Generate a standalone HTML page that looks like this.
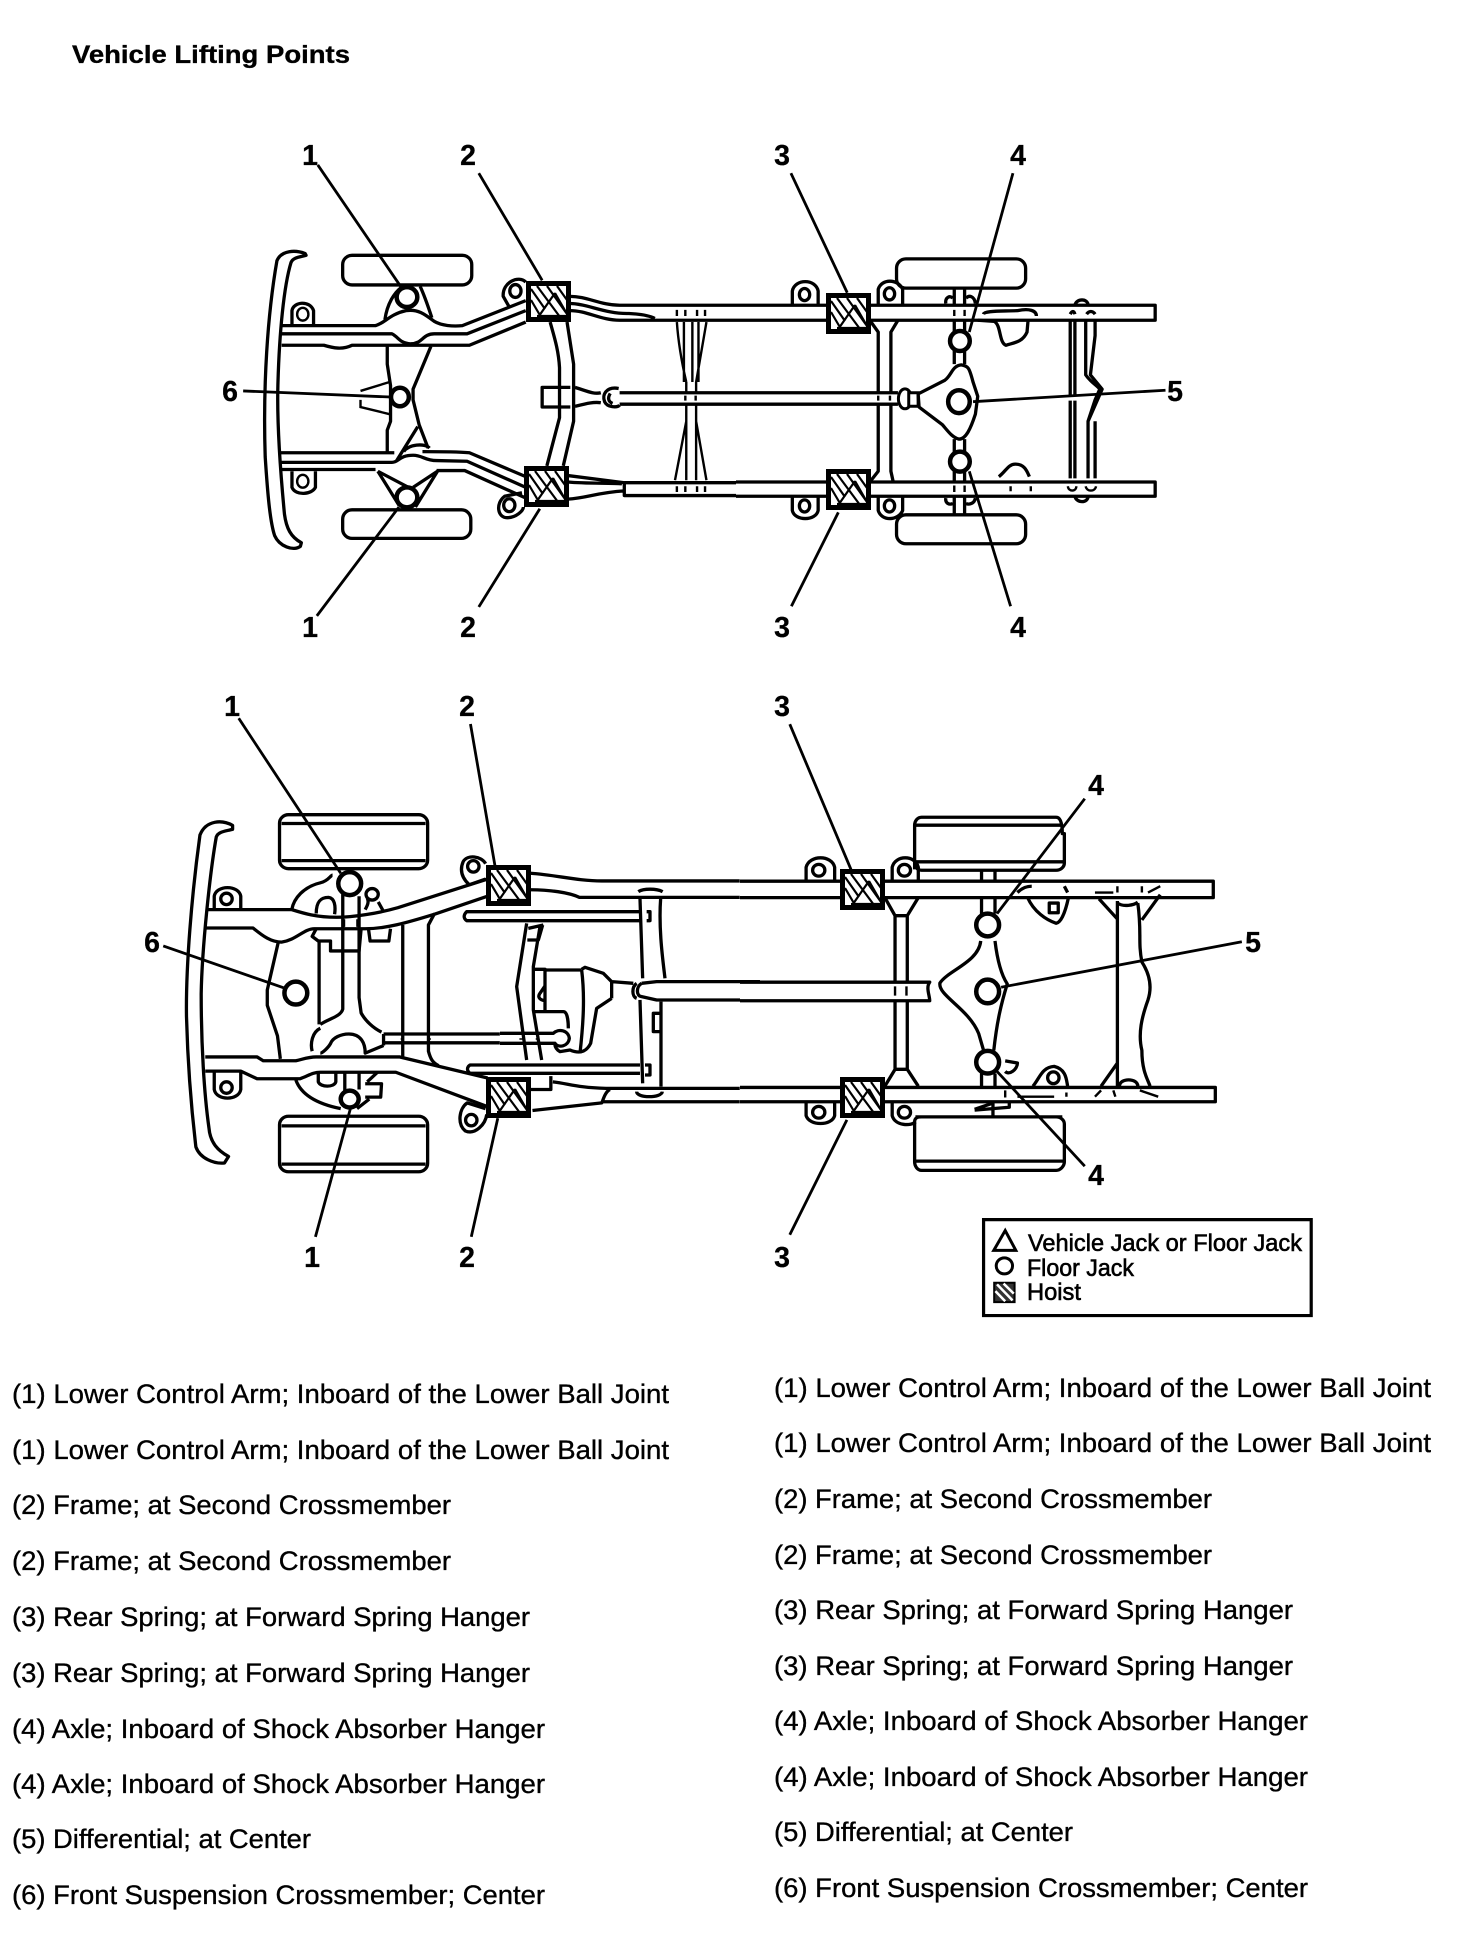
<!DOCTYPE html>
<html><head><meta charset="utf-8"><style>
html,body{margin:0;padding:0;background:#fff}
svg{display:block}
path,ellipse,rect,line,polygon{vector-effect:non-scaling-stroke}
.s{fill:none;stroke:#000;stroke-width:3.3;stroke-linejoin:round}
.t{fill:none;stroke:#000;stroke-width:2.4}
.l{fill:none;stroke:#000;stroke-width:2.8}
.c{fill:#fff;stroke:#000;stroke-width:4.5}
.c2{fill:#fff;stroke:#000;stroke-width:3}
.w{fill:#fff;stroke:none}
text{font-family:"Liberation Sans",Arial,sans-serif;fill:#000}
.n{font-size:28.5px;font-weight:bold;text-anchor:middle;stroke:#000;stroke-width:.3px}
.x{font-size:27px;stroke:#000;stroke-width:.35px}
.g{font-size:24px;stroke:#000;stroke-width:.6px}
</style></head><body>
<svg xmlns="http://www.w3.org/2000/svg" width="1472" height="1936" viewBox="0 0 1472 1936">
<defs>
<g id="h"><rect x="2.5" y="2.5" width="40" height="36" fill="#fff" stroke="#000" stroke-width="5" style="vector-effect:none"/>
<path d="M5,8L19,28M5,19L15,36M11,5L34,36M21,5L41,33M31,5L41,19M29,12L13,35M29,12L41,33M11,35H40" fill="none" stroke="#000" stroke-width="2.2" style="vector-effect:none"/></g>
</defs>
<rect width="1472" height="1936" fill="#fff"/>
<text x="72" y="63" font-size="25px" font-weight="bold" stroke="#000" stroke-width=".35" textLength="278" lengthAdjust="spacingAndGlyphs">Vehicle Lifting Points</text>

<!-- TOP DIAGRAM, FRONT -->
<g transform="translate(0,100) scale(.4694,.357)">
<path class="s" d="M650,430C630,420 600,420 590,450C570,600 560,800 565,1000C570,1100 575,1180 585,1220C595,1250 625,1265 640,1250L642,1240C620,1225 610,1200 606,1160C598,1050 590,900 592,800C595,650 605,520 620,455C625,440 640,440 652,435Z"/>
<rect class="s" x="730" y="435" width="275" height="83" rx="20" ry="26"/>
<rect class="s" x="730" y="1148" width="273" height="80" rx="20" ry="26"/>
<path class="s" d="M622,630V590C625,565 660,560 668,590V630M622,1040V1085C630,1110 665,1105 672,1085V1040"/>
<ellipse class="t" cx="645" cy="600" rx="12" ry="18"/><ellipse class="t" cx="645" cy="1068" rx="12" ry="18"/>
<path class="s" d="M1085,580L1072,550C1070,510 1105,490 1120,510"/><ellipse class="s" cx="1098" cy="535" rx="12" ry="18"/>
<path class="s" d="M1112,1100L1075,1110C1055,1130 1060,1170 1080,1170C1100,1170 1115,1150 1115,1140"/><ellipse class="s" cx="1085" cy="1135" rx="12" ry="18"/>
<path class="s" d="M600,632H800C820,625 830,600 865,590C890,585 905,600 925,620C940,632 965,635 985,632L1120,562"/>
<path class="s" d="M600,655H835C850,665 850,680 875,683C900,683 900,655 925,655H995L1120,590"/>
<path class="s" d="M600,687H690C710,695 730,700 750,687H1000L1120,622"/>
<path class="s" d="M820,615C825,570 840,540 855,525M895,522C905,550 915,590 920,610"/>
<path class="s" d="M825,690V740L832,800V900L825,925V988M918,690L880,810V840L893,910L912,975M845,1010L890,915M860,985C870,965 905,960 915,975"/>
<path class="t" d="M768,815L830,790M768,840V860L830,880"/>
<path class="s" d="M598,988H840M900,985C930,985 970,985 1000,988L1120,1055M598,1015H835C850,1015 850,995 880,995C900,995 905,1010 930,1010L995,1012L1120,1085M598,1035H800M930,1038H990L1120,1115"/>
<path class="s" d="M805,1040L850,1135M805,1040L870,1085M932,1040L885,1140M932,1040L880,1085"/>
<path class="s" d="M1172,622C1180,660 1190,700 1192,750V890L1165,1025M1208,622L1222,740V900L1200,1025"/>
<path class="s" d="M1215,805H1155V860H1215M1225,805C1250,815 1265,825 1280,820M1225,858C1250,850 1265,845 1280,848"/>
<path class="s" d="M1318,808C1292,802 1282,825 1288,845C1294,862 1315,862 1320,855M1300,822C1294,835 1296,845 1305,850"/>
<path class="s" d="M1320,820H1568M1320,852H1568"/>
<path class="s" d="M1215,550C1250,550 1280,575 1320,575H1568M1215,570C1250,570 1290,600 1340,598C1370,600 1385,605 1395,612M1215,590C1250,590 1280,617 1320,617H1568"/>
<path class="s" d="M1210,1052L1330,1072H1568M1330,1072V1108H1568M1210,1070C1250,1075 1300,1072 1325,1075M1210,1118C1250,1115 1270,1100 1330,1095"/>
<path class="t" d="M1442,622C1445,680 1455,750 1462,790M1457,622V790M1475,622V790M1505,622L1483,790M1488,622V790M1462,790V820M1483,790V820M1462,852V1065M1483,852V1065M1462,900L1438,1065M1483,900L1505,1065"/>
<path class="t" d="M1442,588V605M1460,588V605M1485,588V605M1502,588V605M1442,1082V1098M1460,1082V1098M1485,1082V1098M1502,1082V1098M1460,828V842M1482,828V842"/>
<ellipse class="c" cx="867" cy="552" rx="22" ry="28"/>
<ellipse class="c" cx="867" cy="1113" rx="22" ry="28"/>
<ellipse class="c" cx="852" cy="832" rx="19" ry="26"/>
<path class="l" d="M677,182L855,525M1020,205L1155,505M675,1445L850,1140M1020,1420L1150,1145M518,815L832,832"/>
</g>

<!-- TOP DIAGRAM, REAR -->
<g transform="translate(736,100) scale(.4694,.357)">
<path class="s" d="M120,572V535C125,500 170,500 175,535V572M303,572V530C310,500 345,500 355,530V572M120,1112V1150C125,1180 170,1180 175,1150V1112M303,1112V1150C310,1180 345,1180 355,1150V1112"/>
<ellipse class="s" cx="146" cy="545" rx="11" ry="17"/><ellipse class="s" cx="327" cy="543" rx="11" ry="17"/><ellipse class="s" cx="146" cy="1137" rx="11" ry="17"/><ellipse class="s" cx="327" cy="1137" rx="11" ry="17"/>
<rect class="s" x="342" y="445" width="275" height="82" rx="20" ry="26"/>
<rect class="s" x="342" y="1162" width="275" height="81" rx="20" ry="26"/>
<path class="s" d="M465,530V740M487,530V740M465,950V1160M487,950V1160M447,570C445,555 455,545 462,555M490,555C497,545 508,550 510,570M447,1115C445,1130 455,1135 462,1130M490,1130C497,1135 508,1130 510,1115"/>
<rect class="w" x="0" y="575" width="893" height="42"/>
<rect class="w" x="0" y="1070" width="893" height="40"/>
<path class="s" d="M0,575H893V617H0M0,1070H893V1110H0"/>
<path class="s" d="M285,617L303,650V1040L285,1070M345,617L330,650V1040L335,1070"/>
<rect class="w" x="0" y="820" width="345" height="32"/>
<path class="s" d="M0,820H345M0,852H345"/>
<path class="t" d="M303,828V842M328,828V842M465,588V605M487,588V605M465,1080V1098M487,1080V1098M585,1082V1096M628,1082V1096"/>
<ellipse class="c2" cx="360" cy="837" rx="14" ry="28"/><rect class="c2" x="368" y="820" width="20" height="38"/>
<path class="s" d="M390,822L445,785C460,770 460,745 480,742C495,745 497,750 505,790L515,830L510,880C500,920 490,950 475,950C460,945 450,925 440,910L390,860L388,822Z"/>
<path class="s" d="M527,600C530,590 560,592 600,590C625,583 640,590 640,605M515,617L550,620C565,630 560,680 575,687C590,680 610,680 620,650L622,620M560,1055C575,1040 580,1020 595,1020C615,1020 620,1040 625,1055"/>
<path class="s" d="M722,575C725,555 750,555 750,575M722,1110C725,1130 750,1130 750,1110M712,600C716,590 720,590 722,600M747,600C752,590 760,590 765,600"/>
<path class="s" d="M712,620V830M722,620V830M712,842V1060M722,842V1060M745,620V770C755,790 770,800 775,810L765,840L750,900V1060M765,620V660L755,770L780,810L750,900M765,900V1060"/>
<path class="t" d="M707,1082C708,1098 725,1098 725,1082M745,1082C747,1098 765,1098 767,1082"/>
<ellipse class="c" cx="477" cy="675" rx="21" ry="28"/>
<ellipse class="c" cx="477" cy="1013" rx="21" ry="28"/>
<ellipse class="c" cx="475" cy="845" rx="23" ry="32"/>
<path class="l" d="M117,205L237,540M590,205L497,650M118,1418L218,1155M585,1418L497,1040M915,813L505,845"/>
</g>

<!-- BOTTOM DIAGRAM, FRONT -->
<g transform="translate(100,680) scale(.408,.3827)">
<path class="s" d="M325,380C300,365 260,365 245,405C225,560 210,750 212,880C215,1000 225,1130 235,1220C245,1250 280,1265 305,1262L315,1245C290,1230 270,1210 267,1170C255,1080 248,950 248,820C250,700 270,500 285,410C290,395 310,395 325,390Z"/>
<rect class="s" x="440" y="352" width="363" height="141" rx="22" ry="22"/><path class="s" d="M445,375H798M445,472H798"/>
<rect class="s" x="440" y="1140" width="363" height="145" rx="22" ry="22"/><path class="s" d="M445,1165H798M445,1265H798"/>
<path class="s" d="M280,600V565C285,535 340,535 345,565V600M280,1025V1070C285,1100 340,1100 345,1070V1025"/>
<ellipse class="s" cx="310" cy="572" rx="14" ry="15"/><ellipse class="s" cx="310" cy="1065" rx="14" ry="15"/>
<path class="s" d="M945,480C935,460 900,455 890,475C880,500 890,520 905,535L945,520M945,1120L900,1105C880,1120 875,1160 895,1178C920,1190 945,1160 948,1135"/>
<ellipse class="s" cx="915" cy="487" rx="14" ry="15"/><ellipse class="s" cx="910" cy="1150" rx="14" ry="15"/>
<path class="s" d="M260,600H470C500,610 530,620 580,620C620,620 680,610 730,595L950,520"/>
<path class="s" d="M255,648H375C400,670 420,685 445,685C480,680 500,650 525,650H650C700,650 750,635 820,612L950,565"/>
<path class="s" d="M258,985H385L400,995H480C500,990 510,985 530,985H735L950,1040M258,1022H345L385,1042H490C510,1035 520,1025 540,1025H725L950,1115"/>
<path class="s" d="M437,685L410,810V850L435,930L442,990"/>
<path class="s" d="M470,600C475,570 500,540 540,530C560,525 565,510 570,510M530,610C530,580 540,568 560,568C575,570 578,590 575,612M650,600C655,590 660,580 655,570M682,580L695,605"/>
<ellipse class="s" cx="667" cy="560" rx="15" ry="15"/>
<path class="s" d="M595,560V860C590,880 560,885 540,900M635,565V830L640,870C650,890 670,910 690,920"/>
<path class="s" d="M530,650L520,670L535,682H565V708H635L640,650M537,682V900M658,650L662,682H708L712,650"/>
<path class="s" d="M742,640V985M820,610L805,640V970C810,990 815,1000 830,1008"/>
<path class="s" d="M695,925H980M695,948H980M695,925V955M695,955L650,975C650,950 640,925 610,925C590,925 570,935 565,950C560,960 545,975 540,975M520,970C515,950 520,920 540,910"/>
<path class="s" d="M741,936V940M807,936V940M1032,936V940M1072,936V940"/>
<path class="s" d="M1055,505C1120,510 1170,525 1230,525H1568M1055,548C1100,548 1150,555 1175,568H1568"/>
<path class="s" d="M1110,1050C1150,1055 1170,1065 1240,1067H1568M1060,1125L1230,1105C1235,1090 1240,1075 1250,1070M1230,1102H1568M1055,1070H1105V1035"/>
<path class="s" d="M535,1025V1050C540,1065 575,1065 578,1050V1025M600,1025V1075M635,1025V1070M655,1050L680,1025M650,1055H690L688,1090H650M480,1045C490,1075 520,1105 590,1120M630,1120L660,1095M597,625V645M632,625V645"/>
<ellipse class="c" cx="612" cy="532" rx="28" ry="30"/>
<ellipse class="c" cx="612" cy="1095" rx="22" ry="22"/>
<ellipse class="c" cx="480" cy="818" rx="28" ry="30"/>
<path class="l" d="M340,100L590,505M908,115L968,485M528,1455L615,1115M910,1455L975,1145M155,695L452,805"/>
</g>

<!-- BOTTOM DIAGRAM, DIFFERENTIAL AREA (from close crop) -->
<g transform="translate(500,880) scale(.3333)">
<path class="s" d="M420,95H-100C-110,105 -110,115 -100,122H420M420,555H-90C-100,562 -100,572 -90,580H420"/>
<path class="s" d="M120,140L100,260V390L125,540M80,130L50,320L80,540M82,180H115L128,135M85,145L130,135"/>
<path class="s" d="M100,268H135V390M135,270H245M100,395H190C205,395 205,440 205,445M245,270C255,350 250,430 240,520M245,268L255,262L310,280L335,305L400,310M335,305V355M335,355L290,385L272,490C262,510 245,525 210,510L180,515C170,510 165,500 165,495M120,340C112,350 118,360 135,362M120,340L135,318"/>
<path class="s" d="M0,460H160C175,445 205,450 208,475C205,500 175,505 165,490H0"/>
<path class="s" d="M420,55L428,295M420,360L428,610M482,55C475,150 490,250 495,295M483,365V620M415,35C430,25 470,25 488,35M410,635C410,655 485,655 487,635"/>
<path class="s" d="M440,95H450V122H440M435,555H450V585H435M485,400H460V455H485"/>
<path class="s" d="M410,310C395,320 395,350 410,355M425,310C408,320 408,348 425,350L470,360H780M425,310L470,305H780"/>
</g>

<!-- BOTTOM DIAGRAM, REAR -->
<g transform="translate(740,680) scale(.408,.4209)">
<path class="s" d="M162,475V445C170,415 225,415 232,445V475M162,1005V1035C170,1060 225,1060 232,1035V1005M373,475V445C380,415 430,415 437,445V475M373,1005V1035C380,1060 420,1060 430,1050"/>
<ellipse class="s" cx="193" cy="452" rx="15" ry="14"/><ellipse class="s" cx="193" cy="1027" rx="15" ry="14"/><ellipse class="s" cx="403" cy="452" rx="15" ry="14"/><ellipse class="s" cx="403" cy="1027" rx="15" ry="14"/>
<path class="s" d="M428,450V345C428,335 435,326 445,326H775C785,326 790,340 790,365H795V435C795,445 785,452 775,452H445C435,452 428,445 428,432M430,345H785M430,432H795"/>
<path class="s" d="M428,1050V1145C428,1155 435,1165 445,1165H775C785,1165 795,1155 795,1145V1055C795,1045 785,1038 775,1038H445C435,1038 428,1040 428,1050M430,1143H795M430,1038H790"/>
<path class="s" d="M592,455V560M625,455V555M592,935V968M625,935V968"/>
<rect class="w" x="0" y="478" width="1160" height="39"/>
<rect class="w" x="0" y="968" width="1165" height="34"/>
<path class="s" d="M0,478H1160V517H0M0,968H1165V1002H0"/>
<path class="s" d="M355,517L380,560V925L355,965M437,517L410,560V925L437,965M380,560H410M380,925H410"/>
<path class="w" d="M0,718H465C455,730 465,750 465,762H0Z"/>
<path class="s" d="M0,718H465C455,730 465,750 465,762H0"/>
<path class="t" d="M380,728V750M408,728V750"/>
<path class="s" d="M590,620C585,670 510,690 490,720C485,750 560,780 585,840L597,880M625,620C630,660 640,700 655,722C640,770 630,810 622,880"/>
<path class="s" d="M705,517C720,550 750,570 775,578C790,575 800,540 805,517M795,490L803,505M680,505C690,495 700,490 715,490"/>
<rect class="s" x="758" y="530" width="22" height="23"/>
<path class="s" d="M925,525V965M925,530C940,540 965,535 975,528M975,530C985,600 975,620 985,670C1005,700 1010,730 1000,760C985,800 975,840 985,880C985,930 1000,950 1005,965M880,520L925,568M1030,510L985,570M885,965L925,910M930,965C930,945 975,945 975,965"/>
<path class="s" d="M718,965C735,945 740,920 770,918C800,925 800,950 803,965M650,905L680,910C680,925 660,940 650,930"/>
<ellipse class="s" cx="768" cy="945" rx="14" ry="14"/>
<path class="t" d="M680,990H770M800,980V990M870,990L885,975M915,975L920,990M980,975L1025,990M870,505H915M925,490V505M985,490V505M1000,505L1030,490M650,975V992"/>
<path class="s" d="M575,1020L620,1005V1035M575,1022L660,1015V1005"/>
<ellipse class="c" cx="607" cy="582" rx="28" ry="27"/>
<ellipse class="c" cx="607" cy="740" rx="28" ry="28"/>
<ellipse class="c" cx="607" cy="908" rx="28" ry="27"/>
<path class="l" d="M122,105L272,450M845,282L630,555M1230,622L640,730M845,1155L630,930M122,1318L262,1045"/>
<rect x="597" y="1282" width="803" height="228" fill="#fff" stroke="#000" stroke-width="3.2"/>
<path d="M622,1355L650,1308L676,1355Z" fill="#fff" stroke="#000" stroke-width="3"/>
<ellipse cx="648" cy="1392" rx="20" ry="19" fill="#fff" stroke="#000" stroke-width="3"/>
<rect x="623" y="1432" width="50" height="46" fill="#333" stroke="#000" stroke-width="2"/>
<path d="M630,1436L668,1474M626,1452L650,1476M646,1434L671,1458" fill="none" stroke="#fff" stroke-width="2.5"/>
</g>

<!-- hoist pads -->
<use href="#h" x="526" y="281"/><use href="#h" x="524" y="466"/>
<use href="#h" x="826" y="293"/><use href="#h" x="826" y="469"/>
<use href="#h" x="486" y="865"/><use href="#h" x="486" y="1077"/>
<use href="#h" x="840" y="869"/><use href="#h" x="840" y="1077"/>

<!-- callouts -->
<text class="n" x="310" y="165">1</text><text class="n" x="468" y="165">2</text><text class="n" x="782" y="165">3</text><text class="n" x="1018" y="165">4</text>
<text class="n" x="310" y="637">1</text><text class="n" x="468" y="637">2</text><text class="n" x="782" y="637">3</text><text class="n" x="1018" y="637">4</text>
<text class="n" x="230" y="401">6</text><text class="n" x="1175" y="401">5</text>
<text class="n" x="232" y="716">1</text><text class="n" x="467" y="716">2</text><text class="n" x="782" y="716">3</text><text class="n" x="1096" y="795">4</text>
<text class="n" x="152" y="952">6</text><text class="n" x="1253" y="952">5</text>
<text class="n" x="312" y="1267">1</text><text class="n" x="467" y="1267">2</text><text class="n" x="782" y="1267">3</text><text class="n" x="1096" y="1185">4</text>

<!-- legend text -->
<text class="g" x="1028" y="1251" textLength="274" lengthAdjust="spacingAndGlyphs">Vehicle Jack or Floor Jack</text>
<text class="g" x="1027" y="1276" textLength="107" lengthAdjust="spacingAndGlyphs">Floor Jack</text>
<text class="g" x="1027" y="1300" textLength="54" lengthAdjust="spacingAndGlyphs">Hoist</text>

<!-- left column -->
<text class="x" x="12" y="1403" textLength="657" lengthAdjust="spacingAndGlyphs">(1) Lower Control Arm; Inboard of the Lower Ball Joint</text>
<text class="x" x="12" y="1459" textLength="657" lengthAdjust="spacingAndGlyphs">(1) Lower Control Arm; Inboard of the Lower Ball Joint</text>
<text class="x" x="12" y="1514" textLength="439" lengthAdjust="spacingAndGlyphs">(2) Frame; at Second Crossmember</text>
<text class="x" x="12" y="1570" textLength="439" lengthAdjust="spacingAndGlyphs">(2) Frame; at Second Crossmember</text>
<text class="x" x="12" y="1626" textLength="518" lengthAdjust="spacingAndGlyphs">(3) Rear Spring; at Forward Spring Hanger</text>
<text class="x" x="12" y="1682" textLength="518" lengthAdjust="spacingAndGlyphs">(3) Rear Spring; at Forward Spring Hanger</text>
<text class="x" x="12" y="1738" textLength="533" lengthAdjust="spacingAndGlyphs">(4) Axle; Inboard of Shock Absorber Hanger</text>
<text class="x" x="12" y="1793" textLength="533" lengthAdjust="spacingAndGlyphs">(4) Axle; Inboard of Shock Absorber Hanger</text>
<text class="x" x="12" y="1848" textLength="299" lengthAdjust="spacingAndGlyphs">(5) Differential; at Center</text>
<text class="x" x="12" y="1904" textLength="533" lengthAdjust="spacingAndGlyphs">(6) Front Suspension Crossmember; Center</text>

<!-- right column -->
<text class="x" x="774" y="1397" textLength="657" lengthAdjust="spacingAndGlyphs">(1) Lower Control Arm; Inboard of the Lower Ball Joint</text>
<text class="x" x="774" y="1452" textLength="657" lengthAdjust="spacingAndGlyphs">(1) Lower Control Arm; Inboard of the Lower Ball Joint</text>
<text class="x" x="774" y="1508" textLength="438" lengthAdjust="spacingAndGlyphs">(2) Frame; at Second Crossmember</text>
<text class="x" x="774" y="1564" textLength="438" lengthAdjust="spacingAndGlyphs">(2) Frame; at Second Crossmember</text>
<text class="x" x="774" y="1619" textLength="519" lengthAdjust="spacingAndGlyphs">(3) Rear Spring; at Forward Spring Hanger</text>
<text class="x" x="774" y="1675" textLength="519" lengthAdjust="spacingAndGlyphs">(3) Rear Spring; at Forward Spring Hanger</text>
<text class="x" x="774" y="1730" textLength="534" lengthAdjust="spacingAndGlyphs">(4) Axle; Inboard of Shock Absorber Hanger</text>
<text class="x" x="774" y="1786" textLength="534" lengthAdjust="spacingAndGlyphs">(4) Axle; Inboard of Shock Absorber Hanger</text>
<text class="x" x="774" y="1841" textLength="299" lengthAdjust="spacingAndGlyphs">(5) Differential; at Center</text>
<text class="x" x="774" y="1897" textLength="534" lengthAdjust="spacingAndGlyphs">(6) Front Suspension Crossmember; Center</text>
</svg>
</body></html>
